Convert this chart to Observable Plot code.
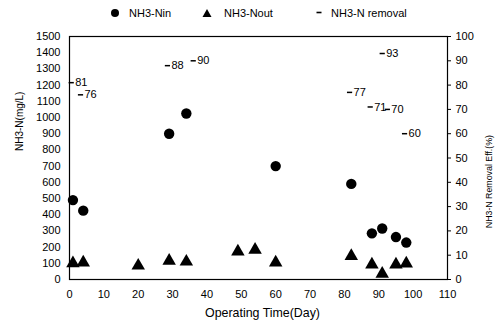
<!DOCTYPE html>
<html>
<head>
<meta charset="utf-8">
<script src="https://cdn.jsdelivr.net/npm/d3@7"></script>
<script src="https://cdn.jsdelivr.net/npm/@observablehq/plot@0.6"></script>
<style>
  html, body { margin: 0; padding: 0; background: #fff; }
  body { width: 499px; height: 324px; overflow: hidden; font-family: "Liberation Sans", Arial, sans-serif; }
  #legend { position: relative; height: 24px; font-size: 11px; color: #000; }
  #legend span { position: absolute; top: 7px; line-height: 12px; }
  #legend svg { position: absolute; top: 8px; }
</style>
</head>
<body>
<div id="legend">
  <svg style="left:110px" width="10" height="10"><circle cx="5" cy="5" r="4" fill="#000"/></svg>
  <span style="left:129px">NH3-Nin</span>
  <svg style="left:202px" width="10" height="10"><path d="M5,1L9.5,9H0.5Z" fill="#000"/></svg>
  <span style="left:224px">NH3-Nout</span>
  <svg style="left:314px" width="10" height="10"><path d="M2.5,4.5H7.5" stroke="#000" stroke-width="1.6"/></svg>
  <span style="left:331px">NH3-N removal</span>
</div>
<div id="chart"></div>
<script>
// NH3-N influent (mg/L)
const ninDays = [1, 4, 29, 34, 60, 82, 88, 91, 95, 98];
const ninValues = [490, 425, 900, 1025, 700, 590, 285, 315, 262, 228];
// NH3-N effluent (mg/L)
const noutDays = [1, 4, 20, 29, 34, 49, 54, 60, 82, 88, 91, 95, 98];
const noutValues = [100, 105, 85, 115, 110, 172, 183, 105, 145, 92, 35, 92, 98];
// NH3-N removal efficiency (%)
const remDays = [0.5, 3.2, 28.5, 36, 91, 81.5, 87.5, 92.5, 97.5];
const remValues = [81, 76, 88, 90, 93, 77, 71, 70, 60];

const leftTicks = d3.range(0, 1501, 100);
const rightTicks = d3.range(0, 101, 10);
const xTicks = d3.range(0, 111, 10);
const ratio = 15; // 100 % <-> 1500 mg/L

const nin = ninDays.map((d, i) => ({day: d, v: ninValues[i]}));
const nout = noutDays.map((d, i) => ({day: d, v: noutValues[i]}));
const rem = remDays.map((d, i) => ({day: d, v: remValues[i]}));

const dash = {
  draw(ctx, size) {
    ctx.moveTo(-2.6, 0);
    ctx.lineTo(2.6, 0);
  }
};

const font = "Liberation Sans, Arial, sans-serif";

const chart = Plot.plot({
  width: 499,
  height: 300,
  marginLeft: 69,
  marginRight: 52,
  marginTop: 12,
  marginBottom: 45,
  style: {fontFamily: font, fontSize: "11px", color: "#000", background: "#fff"},
  x: {domain: [0, 110], label: null},
  y: {domain: [0, 1500], label: null},
  marks: [
    Plot.frame({stroke: "#000", strokeWidth: 1.2}),
    Plot.axisY(leftTicks, {anchor: "left", tickSize: 0, tickPadding: 9, label: null, tickFormat: d => String(d), fontSize: 11}),
    Plot.axisY(rightTicks.map(t => t * ratio), {anchor: "right", tickSize: 3, tickPadding: 5, label: null, tickFormat: d => String(d / ratio), fontSize: 11}),
    Plot.axisX(xTicks, {anchor: "bottom", tickSize: 0, tickPadding: 11, label: null, tickFormat: d => String(d), fontSize: 11}),
    Plot.text(["NH3-N(mg/L)"], {frameAnchor: "left", rotate: -90, dx: -50, dy: -7, fontSize: 10}),
    Plot.text(["NH3-N Removal Eff.(%)"], {frameAnchor: "right", rotate: -90, dx: 42, dy: -23, fontSize: 8.8}),
    Plot.text(["Operating Time(Day)"], {frameAnchor: "bottom", dy: 37, dx: 4, fontSize: 12.4}),
    Plot.dot(nout, {x: "day", y: "v", symbol: "triangle", r: 5, fill: "#000", stroke: "none"}),
    Plot.dot(nin, {x: "day", y: "v", symbol: "circle", r: 5.2, fill: "#000", stroke: "none"}),
    Plot.dot(rem, {x: "day", y: d => d.v * ratio, symbol: dash, r: 3, fill: "none", stroke: "#000", strokeWidth: 1.5}),
    Plot.text(rem, {x: "day", y: d => d.v * ratio, text: d => String(d.v), textAnchor: "start", dx: 4, fontSize: 11})
  ]
});
document.getElementById("chart").appendChild(chart);
</script>
</body>
</html>
